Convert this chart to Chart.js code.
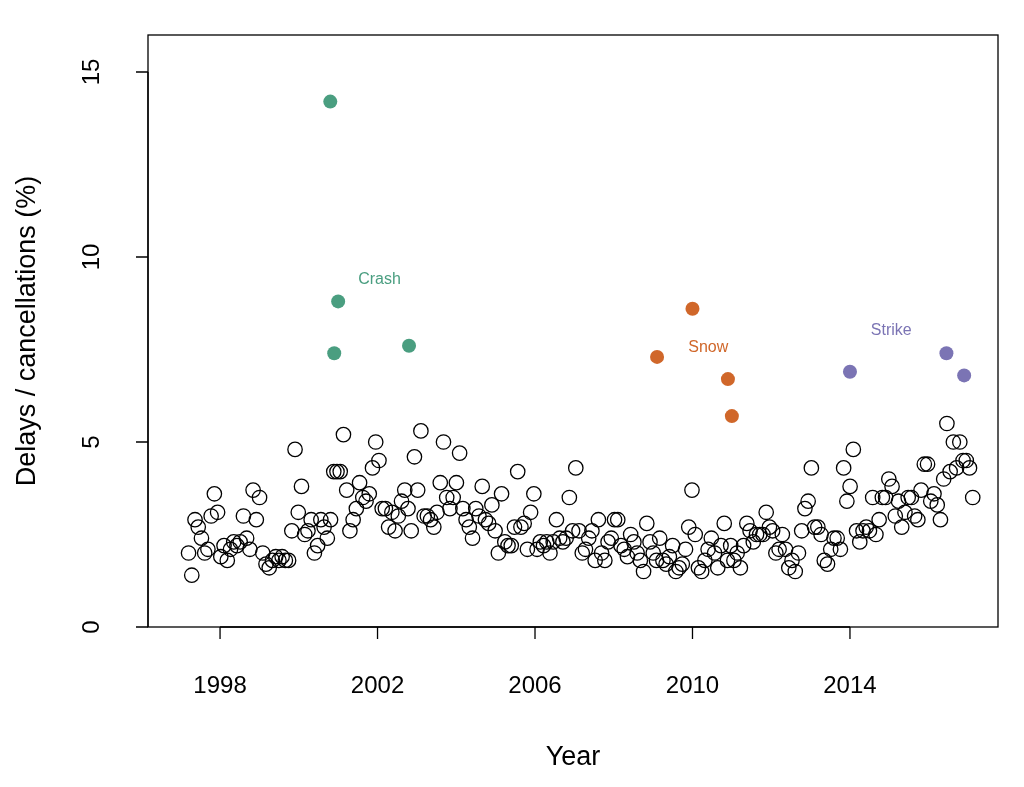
<!DOCTYPE html>
<html lang="en">
<head>
<meta charset="UTF-8">
<title>Delays</title>
<script src="https://cdn.jsdelivr.net/npm/chart.js"></script>
<style>
  body { margin: 0; background: #fff; }
  #wrap { width: 1024px; height: 787px; }
</style>
</head>
<body>
<div id="wrap"><canvas id="c"></canvas></div>
<script>
// monthly values starting 1997.2
const startYear = 1997.2;
const delays = [
  2.0,1.4,2.9,2.7,2.4,2.0,2.1,3.0,3.6,3.1,1.9,2.2,
  1.8,2.1,2.3,2.2,2.3,3.0,2.4,2.1,3.7,2.9,3.5,2.0,
  1.7,1.6,1.8,1.9,1.8,1.9,1.8,1.8,2.6,4.8,3.1,3.8,
  2.5,2.6,2.9,2.0,2.2,2.9,2.7,2.4,2.9,4.2,4.2,4.2,
  5.2,3.7,2.6,2.9,3.2,3.9,3.5,3.4,3.6,4.3,5.0,4.5,
  3.2,3.2,2.7,3.1,2.6,3.0,3.4,3.7,3.2,2.6,4.6,3.7,
  5.3,3.0,3.0,2.9,2.7,3.1,3.9,5.0,3.5,3.2,3.5,3.9,
  4.7,3.2,2.9,2.7,2.4,3.2,3.0,3.8,2.9,2.8,3.3,2.6,
  2.0,3.6,2.3,2.2,2.2,2.7,4.2,2.7,2.8,2.1,3.1,3.6,
  2.1,2.3,2.2,2.3,2.0,2.3,2.9,2.4,2.3,2.4,3.5,2.6,
  4.3,2.6,2.0,2.1,2.4,2.6,1.8,2.9,2.0,1.8,2.3,2.4,
  2.9,2.9,2.2,2.1,1.9,2.5,2.3,2.0,1.8,1.5,2.8,2.3,
  2.0,1.8,2.4,1.8,1.7,1.9,2.2,1.5,1.6,1.7,2.1,2.7,
  3.7,2.5,1.6,1.5,1.8,2.1,2.4,2.0,1.6,2.2,2.8,1.8,
  2.2,1.8,2.0,1.6,2.2,2.8,2.6,2.3,2.5,2.5,2.5,3.1,
  2.7,2.6,2.0,2.1,2.5,2.1,1.6,1.8,1.5,2.0,2.6,3.2,
  3.4,4.3,2.7,2.7,2.5,1.8,1.7,2.1,2.4,2.4,2.1,4.3,
  3.4,3.8,4.8,2.6,2.3,2.6,2.7,2.6,3.5,2.5,2.9,3.5,
  3.5,4.0,3.8,3.0,3.4,2.7,3.1,3.5,3.5,3.0,2.9,3.7,
  4.4,4.4,3.4,3.6,3.3,2.9,4.0,5.5,4.2,5.0,4.3,5.0,
  4.5,4.5,4.3,3.5
];
const crashX = [2000.8, 2001.0, 2000.9, 2002.8];
const crashY = [14.2, 8.8, 7.4, 7.6];
const snowX = [2009.1, 2010.0, 2010.9, 2011.0];
const snowY = [7.3, 8.6, 6.7, 5.7];
const strikeX = [2014.0, 2016.45, 2016.9];
const strikeY = [6.9, 7.4, 6.8];
const xTicks = [1998, 2002, 2006, 2010, 2014];
const yTicks = [0, 5, 10, 15];
const labels = [
  { text: 'Crash', x: 2002.05, y: 9.4, color: '#4a9e80' },
  { text: 'Snow', x: 2010.4, y: 7.55, color: '#d0672a' },
  { text: 'Strike', x: 2015.05, y: 8.0, color: '#7b74b4' }
];

const pts = (xs, ys) => xs.map((x, i) => ({ x: x, y: ys[i] }));
const font = '"Liberation Sans", Arial, sans-serif';

const rAxes = {
  id: 'rAxes',
  afterDraw(chart) {
    const ctx = chart.ctx, a = chart.chartArea;
    const xs = chart.scales.x, ys = chart.scales.y;
    ctx.save();
    ctx.strokeStyle = '#000'; ctx.fillStyle = '#000'; ctx.lineWidth = 1.3;
    ctx.strokeRect(a.left, a.top, a.right - a.left, a.bottom - a.top);
    // x axis
    ctx.beginPath();
    ctx.moveTo(xs.getPixelForValue(xTicks[0]), a.bottom);
    ctx.lineTo(xs.getPixelForValue(xTicks[xTicks.length - 1]), a.bottom);
    xTicks.forEach(t => {
      const px = xs.getPixelForValue(t);
      ctx.moveTo(px, a.bottom); ctx.lineTo(px, a.bottom + 12);
    });
    ctx.stroke();
    ctx.font = '24px ' + font; ctx.textAlign = 'center'; ctx.textBaseline = 'middle';
    xTicks.forEach(t => ctx.fillText(String(t), xs.getPixelForValue(t), 686));
    // y axis
    ctx.beginPath();
    ctx.moveTo(a.left, ys.getPixelForValue(yTicks[0]));
    ctx.lineTo(a.left, ys.getPixelForValue(yTicks[yTicks.length - 1]));
    yTicks.forEach(t => {
      const py = ys.getPixelForValue(t);
      ctx.moveTo(a.left, py); ctx.lineTo(a.left - 12, py);
    });
    ctx.stroke();
    yTicks.forEach(t => {
      ctx.save();
      ctx.translate(92, ys.getPixelForValue(t));
      ctx.rotate(-Math.PI / 2);
      ctx.fillText(String(t), 0, 0);
      ctx.restore();
    });
    // titles
    ctx.font = '27px ' + font;
    ctx.fillText('Year', (a.left + a.right) / 2, 758);
    ctx.save();
    ctx.translate(28, (a.top + a.bottom) / 2);
    ctx.rotate(-Math.PI / 2);
    ctx.fillText('Delays / cancellations (%)', 0, 0);
    ctx.restore();
    // annotations
    ctx.font = '16px ' + font;
    labels.forEach(l => {
      ctx.fillStyle = l.color;
      ctx.fillText(l.text, xs.getPixelForValue(l.x), ys.getPixelForValue(l.y));
    });
    ctx.restore();
  }
};

new Chart(document.getElementById('c'), {
  type: 'scatter',
  data: {
    datasets: [
      { data: delays.map((v, i) => ({ x: startYear + i / 12.2, y: v })), pointRadius: 7.2,
        borderColor: '#000', borderWidth: 1.3, backgroundColor: 'rgba(0,0,0,0)' },
      { data: pts(crashX, crashY), pointRadius: 7, borderWidth: 0, backgroundColor: '#4a9e80' },
      { data: pts(snowX, snowY), pointRadius: 7, borderWidth: 0, backgroundColor: '#d0672a' },
      { data: pts(strikeX, strikeY), pointRadius: 7, borderWidth: 0, backgroundColor: '#7b74b4' }
    ]
  },
  options: {
    responsive: true, maintainAspectRatio: false, animation: false,
    layout: { padding: { left: 148, right: 26, top: 35, bottom: 160 } },
    plugins: { legend: { display: false }, tooltip: { enabled: false } },
    elements: { point: { hoverRadius: 7 } },
    scales: {
      x: { type: 'linear', display: false, min: 1996.17, max: 2017.76 },
      y: { type: 'linear', display: false, min: 0, max: 16 }
    }
  },
  plugins: [rAxes]
});
</script>
</body>
</html>
